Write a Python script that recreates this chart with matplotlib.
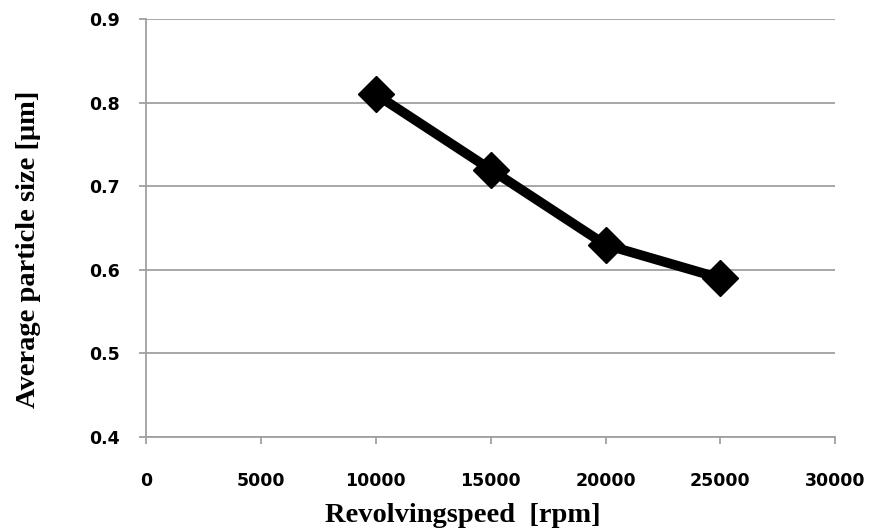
from matplotlib import pyplot as plt

speed = [10000, 15000, 20000, 25000]
size = [0.81, 0.72, 0.63, 0.59]
xticks = [0, 5000, 10000, 15000, 20000, 25000, 30000]
yticks = [0.4, 0.5, 0.6, 0.7, 0.8, 0.9]

fig = plt.figure(figsize=(8.7, 5.31), dpi=100)
ax = fig.add_axes([0.168, 0.177, 0.792, 0.787])

ax.plot(speed, size, color="black", lw=7, marker="D", markersize=18, zorder=3)

ax.set_xlim(0, 30000)
ax.set_ylim(0.4, 0.9)
ax.set_xticks(xticks)
ax.set_yticks(yticks)
ax.set_yticklabels(["%.1f" % v for v in yticks])
ax.grid(True, axis="y", color="#a0a0a0", lw=1.3)
ax.set_axisbelow(True)

for s in ["top", "right"]:
    ax.spines[s].set_visible(False)
for s in ["left", "bottom"]:
    ax.spines[s].set_color("#a0a0a0")
    ax.spines[s].set_linewidth(1.3)

ax.tick_params(axis="both", color="#a0a0a0", width=1.3, length=5)
ax.tick_params(axis="x", pad=20)
ax.tick_params(axis="y", pad=14)
for lab in ax.get_xticklabels() + ax.get_yticklabels():
    lab.set_fontweight("bold")
    lab.set_family("DejaVu Sans")
    lab.set_fontsize(12.5)

ax.set_xlabel("Revolvingspeed  [rpm]", fontsize=20.5, fontweight="bold",
              family="Liberation Serif")
ax.set_ylabel("Average particle size [μm]", fontsize=20.5, fontweight="bold",
              family="Liberation Serif")
ax.xaxis.set_label_coords(0.46, -0.158, transform=ax.transAxes)
ax.yaxis.set_label_coords(-0.152, 0.448, transform=ax.transAxes)

plt.savefig("out.png", dpi=100)
